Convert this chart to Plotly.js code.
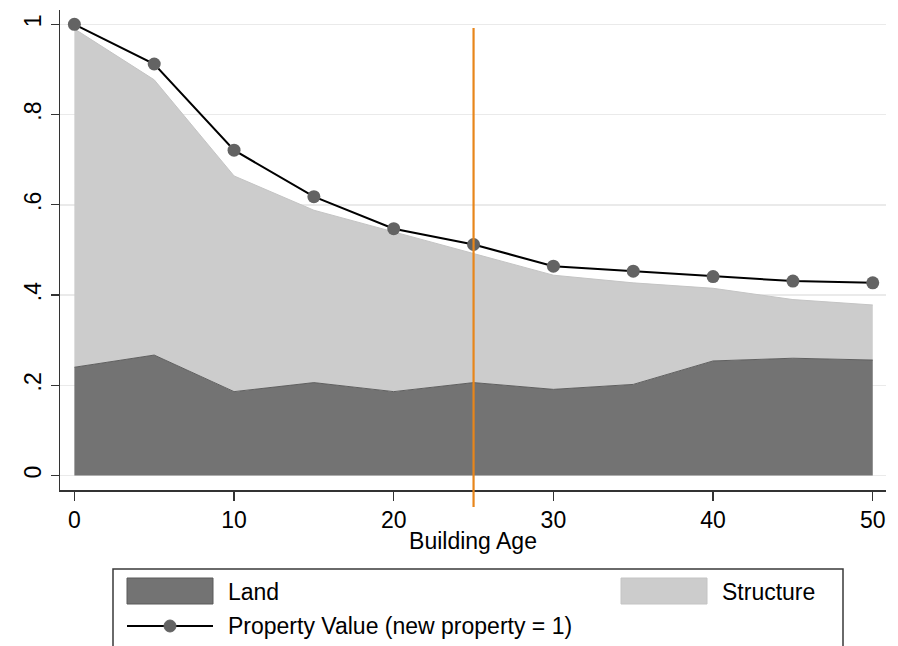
<!DOCTYPE html>
<html>
<head>
<meta charset="utf-8">
<script src="https://cdn.plot.ly/plotly-3.0.1.min.js"></script>
<style>html,body{margin:0;padding:0;background:#fff;}</style>
</head>
<body>
<div id="chart" style="width:898px;height:646px;"></div>
<script>
// Data
var buildingAge = [0, 5, 10, 15, 20, 25, 30, 35, 40, 45, 50];
var landShare = [0.240, 0.267, 0.186, 0.206, 0.186, 0.206, 0.191, 0.202, 0.254, 0.260, 0.256];
var structureShare = [0.750, 0.610, 0.478, 0.382, 0.354, 0.286, 0.253, 0.225, 0.161, 0.130, 0.122];
var propertyValue = [1.000, 0.912, 0.721, 0.618, 0.547, 0.512, 0.464, 0.453, 0.441, 0.431, 0.427];
var xTickVals = [0, 10, 20, 30, 40, 50];
var yTickVals = [0, 0.2, 0.4, 0.6, 0.8, 1];
var yTickText = ["0", ".2", ".4", ".6", ".8", "1"];
var cutoffAge = 25;
var legendLabels = ["Land", "Structure", "Property Value (new property = 1)"];

var W = 898, H = 646;
var M = {l: 60, r: 12, t: 10, b: 156};
var plotW = W - M.l - M.r, plotH = H - M.t - M.b;
function px(x) { return (x - M.l) / plotW; }
function py(y) { return (H - M.b - y) / plotH; }

var FONT = "Liberation Sans, Arial, sans-serif";
var FS = 23;
var landColor = "#737373", structColor = "#cccccc", markerColor = "#636363";

var traces = [
  {x: buildingAge, y: landShare, type: "scatter", mode: "lines", stackgroup: "one",
   fill: "tozeroy", fillcolor: landColor, line: {color: "#5f5f5f", width: 1}, name: legendLabels[0],
   showlegend: false, hoverinfo: "x+y"},
  {x: buildingAge, y: structureShare, type: "scatter", mode: "lines", stackgroup: "one",
   fill: "tonexty", fillcolor: structColor, line: {color: "#c4c4c4", width: 1}, name: legendLabels[1],
   showlegend: false, hoverinfo: "x+y"},
  {x: buildingAge, y: propertyValue, type: "scatter", mode: "lines+markers",
   line: {color: "#000000", width: 2}, marker: {color: markerColor, size: 13},
   name: legendLabels[2], showlegend: false, cliponaxis: false}
];

var shapes = [
  {type: "line", xref: "x", yref: "paper", x0: cutoffAge, x1: cutoffAge,
   y0: py(507), y1: py(28), line: {color: "#e8861a", width: 2.2}},
  // legend box
  {type: "rect", xref: "paper", yref: "paper", x0: px(113), x1: px(843), y0: py(700), y1: py(569),
   line: {color: "#3a3a3a", width: 1.5}, fillcolor: "rgba(0,0,0,0)"},
  {type: "rect", xref: "paper", yref: "paper", x0: px(127), x1: px(213), y0: py(604), y1: py(578),
   line: {color: "#5a5a5a", width: 1}, fillcolor: landColor},
  {type: "rect", xref: "paper", yref: "paper", x0: px(621), x1: px(707), y0: py(604), y1: py(578),
   line: {color: "#c4c4c4", width: 1}, fillcolor: structColor},
  {type: "line", xref: "paper", yref: "paper", x0: px(127), x1: px(213), y0: py(626), y1: py(626),
   line: {color: "#000000", width: 2}},
  {type: "circle", xref: "paper", yref: "paper", x0: px(164), x1: px(176), y0: py(632), y1: py(620),
   line: {color: markerColor, width: 1}, fillcolor: markerColor}
];

var annotations = [
  {xref: "paper", yref: "paper", x: px(226), y: py(592), text: legendLabels[0], showarrow: false,
   xanchor: "left", yanchor: "middle", font: {family: FONT, size: FS, color: "#000"}},
  {xref: "paper", yref: "paper", x: px(720), y: py(592), text: legendLabels[1], showarrow: false,
   xanchor: "left", yanchor: "middle", font: {family: FONT, size: FS, color: "#000"}},
  {xref: "paper", yref: "paper", x: px(226), y: py(626), text: legendLabels[2], showarrow: false,
   xanchor: "left", yanchor: "middle", font: {family: FONT, size: FS, color: "#000"}}
];

var layout = {
  width: W, height: H,
  margin: M,
  paper_bgcolor: "#ffffff", plot_bgcolor: "#ffffff",
  font: {family: FONT, size: FS, color: "#000"},
  showlegend: false,
  xaxis: {
    range: [-0.9, 50.83], tickvals: xTickVals, ticks: "outside", ticklen: 9, tickwidth: 1.3,
    tickcolor: "#333", showline: true, linecolor: "#333", linewidth: 1.5, showgrid: false,
    zeroline: false, tickfont: {size: FS, family: FONT},
    title: {text: "Building Age", font: {size: FS, family: FONT}, standoff: 1}
  },
  yaxis: {
    range: [-0.032, 1.0317], tickvals: yTickVals, ticktext: yTickText, ticks: "outside",
    ticklen: 8, tickwidth: 1.3, tickcolor: "#333", showline: true, linecolor: "#333", linewidth: 1.5,
    showgrid: true, gridcolor: "#eaeaea", gridwidth: 1.5, zeroline: false, tickangle: -90,
    tickfont: {size: FS, family: FONT}
  },
  shapes: shapes,
  annotations: annotations
};

Plotly.newPlot("chart", traces, layout, {displayModeBar: false, staticPlot: true});
</script>
</body>
</html>
